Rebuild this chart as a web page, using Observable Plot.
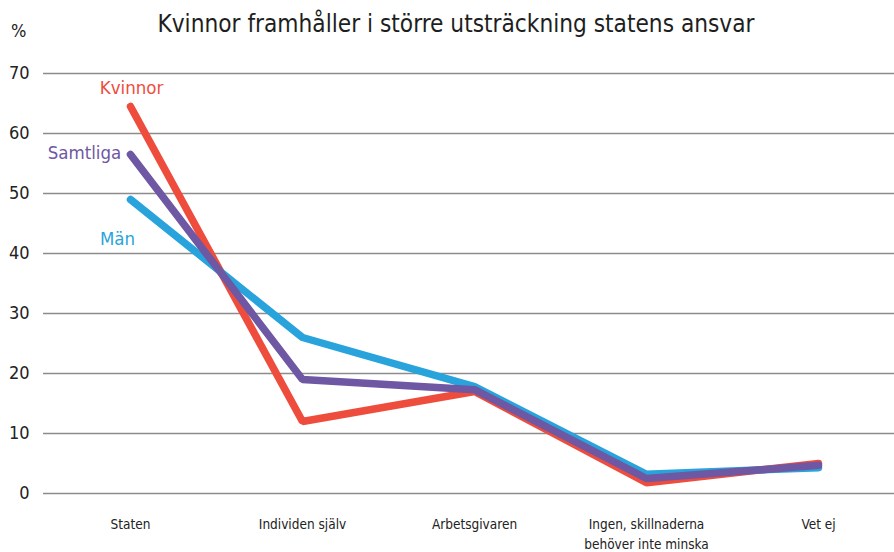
<!DOCTYPE html>
<html>
<head>
<meta charset="utf-8">
<script src="https://cdn.jsdelivr.net/npm/d3@7"></script>
<script src="https://cdn.jsdelivr.net/npm/@observablehq/plot@0.6"></script>
<style>
  body { margin: 0; background: #fff; }
  #wrap { position: relative; width: 894px; height: 552px; font-family: "DejaVu Sans Condensed", "Liberation Sans Narrow", sans-serif; }
  #title { position: absolute; left: 0; width: 894px; top: 10px; text-align: center; font-size: 24.2px; color: #1e1e1e; padding-left: 18px; box-sizing: border-box; }
  #unit { position: absolute; left: 11px; top: 20px; font-size: 18px; color: #222; }
  #chart { position: absolute; left: 0; top: 0; }
</style>
</head>
<body>
<div id="wrap">
  <div id="chart"></div>
  <div id="title">Kvinnor framhåller i större utsträckning statens ansvar</div>
  <div id="unit">%</div>
</div>
<script>
const categories = ["Staten", "Individen själv", "Arbetsgivaren", "Ingen, skillnaderna\nbehöver inte minska", "Vet ej"];
const kvinnor = [64.5, 12, 17, 1.8, 5];
const man = [49, 26, 17.8, 3.2, 4.3];
const samtliga = [56.5, 19, 17.3, 2.5, 4.7];
const seriesNames = ["Kvinnor", "Män", "Samtliga"];
const seriesColors = ["#ee4d3d", "#29a3dc", "#6e57a3"];
const yTicks = [0, 10, 20, 30, 40, 50, 60, 70];

const seriesValues = [kvinnor, man, samtliga];
const rows = seriesNames.flatMap((s, i) => categories.map((c, j) => ({series: s, cat: c, value: seriesValues[i][j]})));
const labels = [
  {series: "Kvinnor", cat: categories[0], value: kvinnor[0], dx: 1, dy: -18},
  {series: "Samtliga", cat: categories[0], value: samtliga[0], dx: -46, dy: -1},
  {series: "Män", cat: categories[0], value: man[0], dx: -13, dy: 40}
];

const font = '"DejaVu Sans Condensed", "Liberation Sans Narrow", sans-serif';

const plot = Plot.plot({
  width: 894,
  height: 552,
  marginTop: 73,
  marginBottom: 59,
  marginLeft: 43,
  marginRight: 0,
  style: {fontFamily: font, background: "transparent"},
  x: {type: "point", domain: categories, range: [130, 818], padding: 0, label: null},
  y: {domain: [0, 70], label: null},
  color: {domain: seriesNames, range: seriesColors},
  marks: [
    Plot.ruleY(yTicks, {stroke: "#8c8c8c", strokeWidth: 1.5}),
    Plot.axisY({ticks: yTicks, tickSize: 0, tickPadding: 0, dx: -14, fontSize: 18, fill: "#222", textAnchor: "end", label: null}),
    Plot.axisX({tickSize: 0, tickPadding: 0, dy: 22, fontSize: 13.5, fill: "#222", lineHeight: 1.45, label: null, textAnchor: "middle", lineAnchor: "top"}),
    Plot.line(rows, {x: "cat", y: "value", z: "series", stroke: "series", strokeWidth: 7.5, strokeLinecap: "round", strokeLinejoin: "miter"}),
    ...labels.map(l => Plot.text([l], {x: "cat", y: "value", text: "series", fill: "series", fontSize: 18.5, dx: l.dx, dy: l.dy}))
  ]
});
document.getElementById("chart").appendChild(plot);
</script>
</body>
</html>
